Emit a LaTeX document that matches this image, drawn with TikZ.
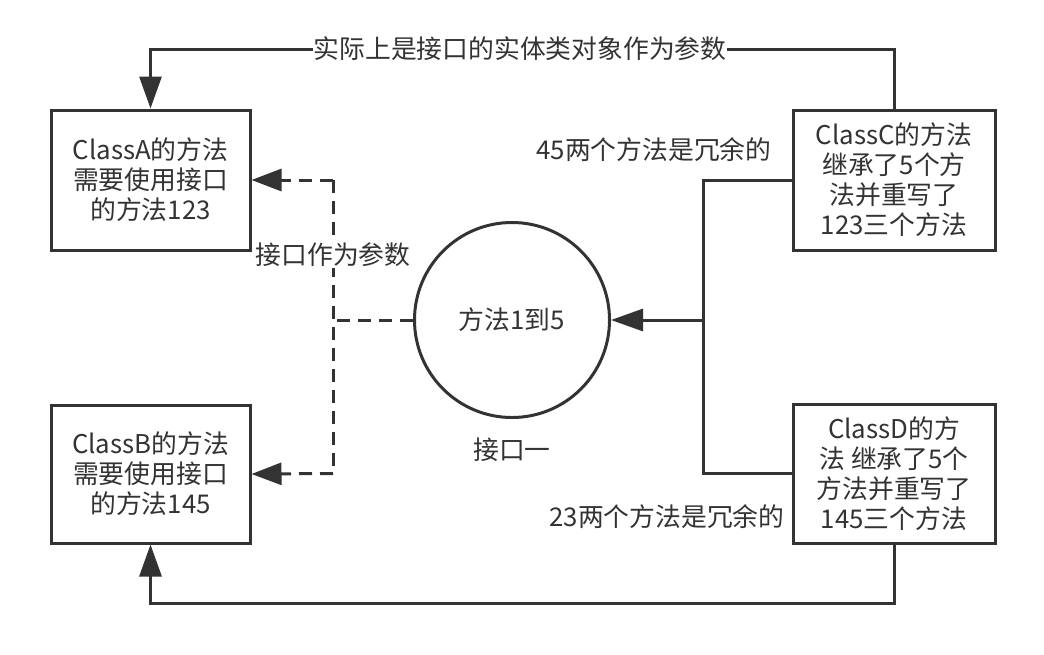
\documentclass[tikz,border=0pt]{standalone}
\usepackage{fontspec}
\setmainfont{Noto Sans CJK SC}
\usetikzlibrary{arrows.meta}
\definecolor{ink}{HTML}{333333}
\tikzset{
  txt/.style={text=ink,font=\fontsize{25.8}{30}\selectfont},
  box/.style={txt,draw=ink,line width=3pt,fill=white,align=center,inner sep=0pt},
  iface/.style={txt,circle,draw=ink,line width=3pt,minimum size=195pt,inner sep=0pt},
  lbl/.style={txt,fill=white,inner sep=1pt},
  wire/.style={draw=ink,line width=3pt},
  arr/.style={wire,-{Triangle[length=32pt,width=22pt]}},
  dsh/.style={wire,dash pattern=on 13pt off 8pt},
  darr/.style={dsh,-{Triangle[length=30pt,width=22pt]}}
}
\begin{document}
\begin{tikzpicture}[x=1pt,y=-1pt]
\useasboundingbox[fill=white] (0,0) rectangle (1044,654);
\node[box,minimum width=199pt,minimum height=140pt] (A) at (150.5,180) {ClassA的方法\\需要使用接口\\的方法123};
\node[box,minimum width=199pt,minimum height=138pt] (B) at (150.5,474) {ClassB的方法\\需要使用接口\\的方法145};
\node[box,minimum width=202pt,minimum height=140pt] (C) at (894,180) {ClassC的方法\\继承了5个方\\法并重写了\\123三个方法};
\node[box,minimum width=202pt,minimum height=139pt] (D) at (894,473.5) {ClassD的方\\法 继承了5个\\方法并重写了\\145三个方法};
\node[iface] (I) at (512,320) {方法1到5};
\node[txt] (Iname) at (512,450) {接口一};

% top feedback C -> A
\coordinate (t1) at (894,49);
\coordinate (t2) at (150.5,49);
\draw[arr] (C.north) -- (t1) -- (t2) -- (A.north);
\node[lbl] (toplbl) at (520,49) {实际上是接口的实体类对象作为参数};

% bottom feedback D -> B
\coordinate (b1) at (894,603);
\coordinate (b2) at (150.5,603);
\draw[arr] (D.south) -- (b1) -- (b2) -- (B.south);

% C and D implement interface
\coordinate (j1) at (703,180);
\coordinate (j2) at (703,473.5);
\coordinate (j3) at (703,320);
\draw[wire] (C.west) -- (j1) -- (j2) -- (D.west);
\draw[arr] (j3) -- (I.east);
\node[txt] (r1) at (654,150) {45两个方法是冗余的};
\node[txt] (r2) at (667,517) {23两个方法是冗余的};

% interface as parameter
\coordinate (d0) at (333,320);
\coordinate (d1) at (333,180);
\coordinate (d2) at (333,473.5);
\draw[dsh] (I.west) -- (d0);
\draw[dsh] (d1) -- (d2);
\draw[darr] (d1) -- (A.east);
\draw[darr] (d2) -- (B.east);
\node[lbl] (plbl) at (333,255) {接口作为参数};
\end{tikzpicture}
\end{document}
